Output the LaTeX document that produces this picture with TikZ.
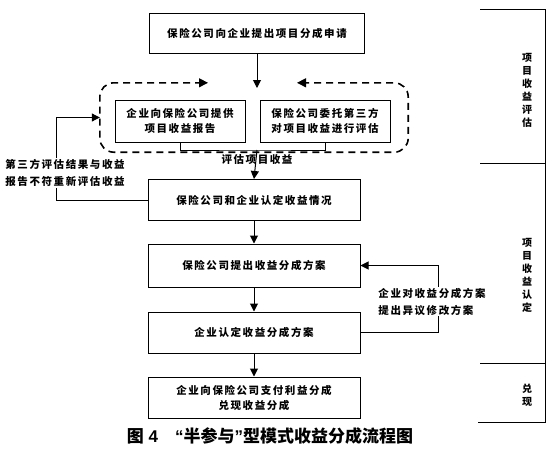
\documentclass[tikz,border=0pt]{standalone}
\usepackage{fontspec}
\newfontfamily\cjk{Noto Sans CJK SC}[LetterSpace=15]
\newfontfamily\cjkcap{Noto Sans CJK SC}
\newfontfamily\latinsans{Liberation Sans}
\usetikzlibrary{arrows.meta,positioning}

\begin{document}
\begin{tikzpicture}[
        x=1pt, y=-1pt,
        stepbox/.style={rectangle, draw, line width=1pt, minimum width=212pt, minimum height=41pt, fill=white, align=center, font=\cjk\bfseries\fontsize{10.5}{15}\selectfont},
        subbox/.style={stepbox, minimum width=130pt, minimum height=42pt},
        note/.style={align=left, inner sep=1pt, fill=white, font=\cjk\bfseries\fontsize{10.5}{17}\selectfont},
        side/.style={align=center, inner sep=0pt, font=\cjkcap\bfseries\fontsize{10}{13}\selectfont},
        flow/.style={line width=1pt, -{Triangle[length=8pt,width=8pt]}},
        dashtip/.style={line width=1pt, -{Triangle[length=9pt,width=9pt]}},
    ]
        \useasboundingbox (0,0) rectangle (558,461);

        % Main column
        \node[stepbox, minimum width=215pt, minimum height=40pt] (apply) at (257,33) {保险公司向企业提出项目分成申请};
        \node[subbox] (report) at (180,121) {企业向保险公司提供\\项目收益报告};
        \node[subbox] (assess) at (325,121) {保险公司委托第三方\\对项目收益进行评估};
        \node[stepbox] (confirm) at (254,200) {保险公司和企业认定收益情况};
        \node[stepbox, minimum height=43pt] (plan) at (254,265.5) {保险公司提出收益分成方案};
        \node[stepbox] (accept) at (254,332.5) {企业认定收益分成方案};
        \node[stepbox] (pay) at (254,397.5) {企业向保险公司支付利益分成\\兑现收益分成};

        % Dashed frame round the two evaluations
        \node[minimum width=308pt, minimum height=69pt, inner sep=0pt] (frame) at (254,117.5) {};
        \draw[line width=1.6pt, dash pattern=on 7pt off 5pt, rounded corners=14pt]
            ([xshift=-52pt]frame.north) -- (frame.north west) -- (frame.south west)
            -- (frame.south east) -- (frame.north east) -- ([xshift=49pt]frame.north);
        \draw[dashtip] ([xshift=-54pt]frame.north) -- ([xshift=-46pt]frame.north);
        \draw[dashtip] ([xshift=51pt]frame.north) -- ([xshift=43pt]frame.north);

        % Connectors
        \coordinate (entry) at (257,88);
        \coordinate (join) at (257,150);
        \draw[flow] (apply) -- (entry);
        \draw[line width=1pt] (report.south) |- (join) -| (assess.south);
        \draw[flow] (join) -- (confirm.north);
        \node[font=\cjk\bfseries\fontsize{10.5}{15}\selectfont, inner sep=1pt] (evallabel) at (257,160) {评估项目收益};
        \draw[flow] (confirm) -- (plan);
        \draw[flow] (plan) -- (accept);
        \draw[flow] (accept) -- (pay);

        % Feedback loops
        \draw[flow] (confirm.west) -| ([xshift=-43pt]frame.west) -- (frame.west);
        \node[note] (recheck) at (65,173) {第三方评估结果与收益\\报告不符重新评估收益};
        \draw[flow] (accept.east) -| ([xshift=78pt]plan.east) -- (plan.east);
        \node[note] (revise) at (432,301.5) {企业对收益分成方案\\提出异议修改方案};

        % Stage column
        \draw[line width=1pt] (480,9) -- (545,9) -- (545,422) -- (478,422);
        \draw[line width=1pt] (480,163) -- (545,163);
        \draw[line width=1pt] (480,363) -- (545,363);
        \node[side] (stage1) at (527,90) {项\\目\\收\\益\\评\\估};
        \node[side] (stage2) at (527,275) {项\\目\\收\\益\\认\\定};
        \node[side] (stage3) at (527,395) {兑\\现};

        % Caption
        \node[font=\cjkcap\bfseries\fontsize{17}{20}\selectfont] (caption) at (270,436) {图{\latinsans\bfseries\ 4}\quad{\latinsans\bfseries “}半参与{\latinsans\bfseries ”}型模式收益分成流程图};
    \end{tikzpicture}
\end{document}
